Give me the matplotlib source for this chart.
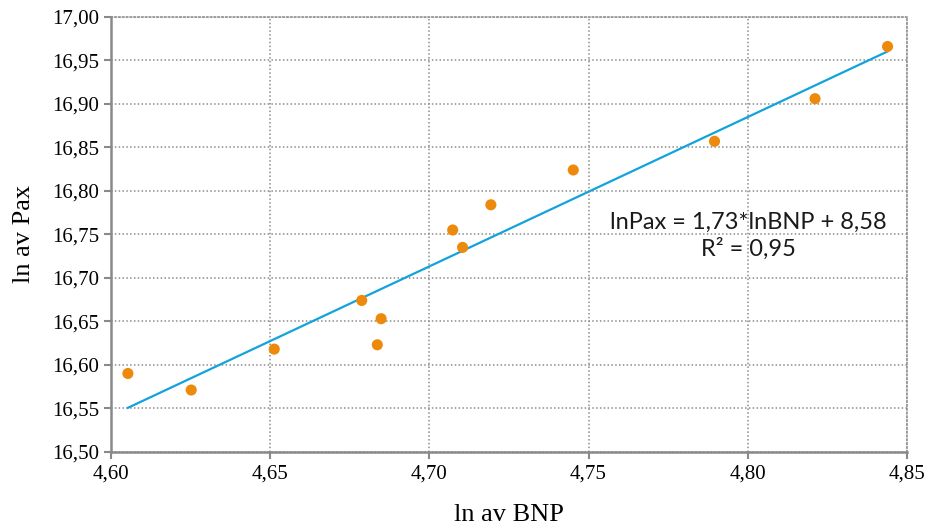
import numpy as np
import matplotlib
matplotlib.use("Agg")
import matplotlib.pyplot as plt
from matplotlib.ticker import FuncFormatter, MultipleLocator

# ln av BNP / ln av Pax
ln_bnp = [4.6052, 4.6251, 4.6512, 4.6787, 4.6836, 4.6848, 4.7073, 4.7104,
          4.7193, 4.7452, 4.7896, 4.8212, 4.8440]
ln_pax = [16.590, 16.571, 16.618, 16.674, 16.623, 16.653, 16.755, 16.735,
          16.784, 16.824, 16.857, 16.906, 16.966]

x = np.array(ln_bnp)
y = np.array(ln_pax)

# linjär trendlinje
k, m = np.polyfit(x, y, 1)
xt = np.array([x.min(), x.max()])
yt = k * xt + m

fig = plt.figure(figsize=(9.28, 5.29), dpi=100)
ax = fig.add_axes([0.120, 0.146, 0.857, 0.822])

ax.plot(xt, yt, color="#12A3DC", linewidth=1.6, zorder=2)
ax.scatter(x, y, s=64, color="#EE8A0B", edgecolors="none", zorder=3)

ax.set_xlim(4.60, 4.85)
ax.set_ylim(16.50, 17.00)
ax.xaxis.set_major_locator(MultipleLocator(0.05))
ax.yaxis.set_major_locator(MultipleLocator(0.05))
ax.xaxis.set_major_formatter(FuncFormatter(lambda v, p: f"{v:.2f}".replace(".", ",")))
ax.yaxis.set_major_formatter(FuncFormatter(lambda v, p: f"{v:.2f}".replace(".", ",")))

ax.grid(True, color="#8c8c8c", linestyle=(0, (1, 1.5)), linewidth=1.1)
ax.set_axisbelow(True)

for s in ["left", "bottom"]:
    ax.spines[s].set_color("#898989")
    ax.spines[s].set_linewidth(1.8)
for s in ["right", "top"]:
    ax.spines[s].set_color("#8c8c8c")
    ax.spines[s].set_linestyle((0, (1, 1.5)))
    ax.spines[s].set_linewidth(1.1)

ax.tick_params(axis="both", direction="out", length=5, width=1.5, color="#898989",
               labelsize=15, pad=4)
for lab in ax.get_xticklabels() + ax.get_yticklabels():
    lab.set_fontfamily("Liberation Serif")

ax.set_xlabel("ln av BNP", fontsize=19, family="Liberation Serif", labelpad=15)
ax.set_ylabel("ln av Pax", fontsize=19, family="Liberation Serif", labelpad=12)

ax.text(4.8002, 16.748, "lnPax = 1,73*lnBNP + 8,58\nR² = 0,95",
        ha="center", va="center", multialignment="center",
        fontsize=17, family="Lato", linespacing=1.25, color="#1a1a1a")

fig.savefig("out.png", dpi=100)
